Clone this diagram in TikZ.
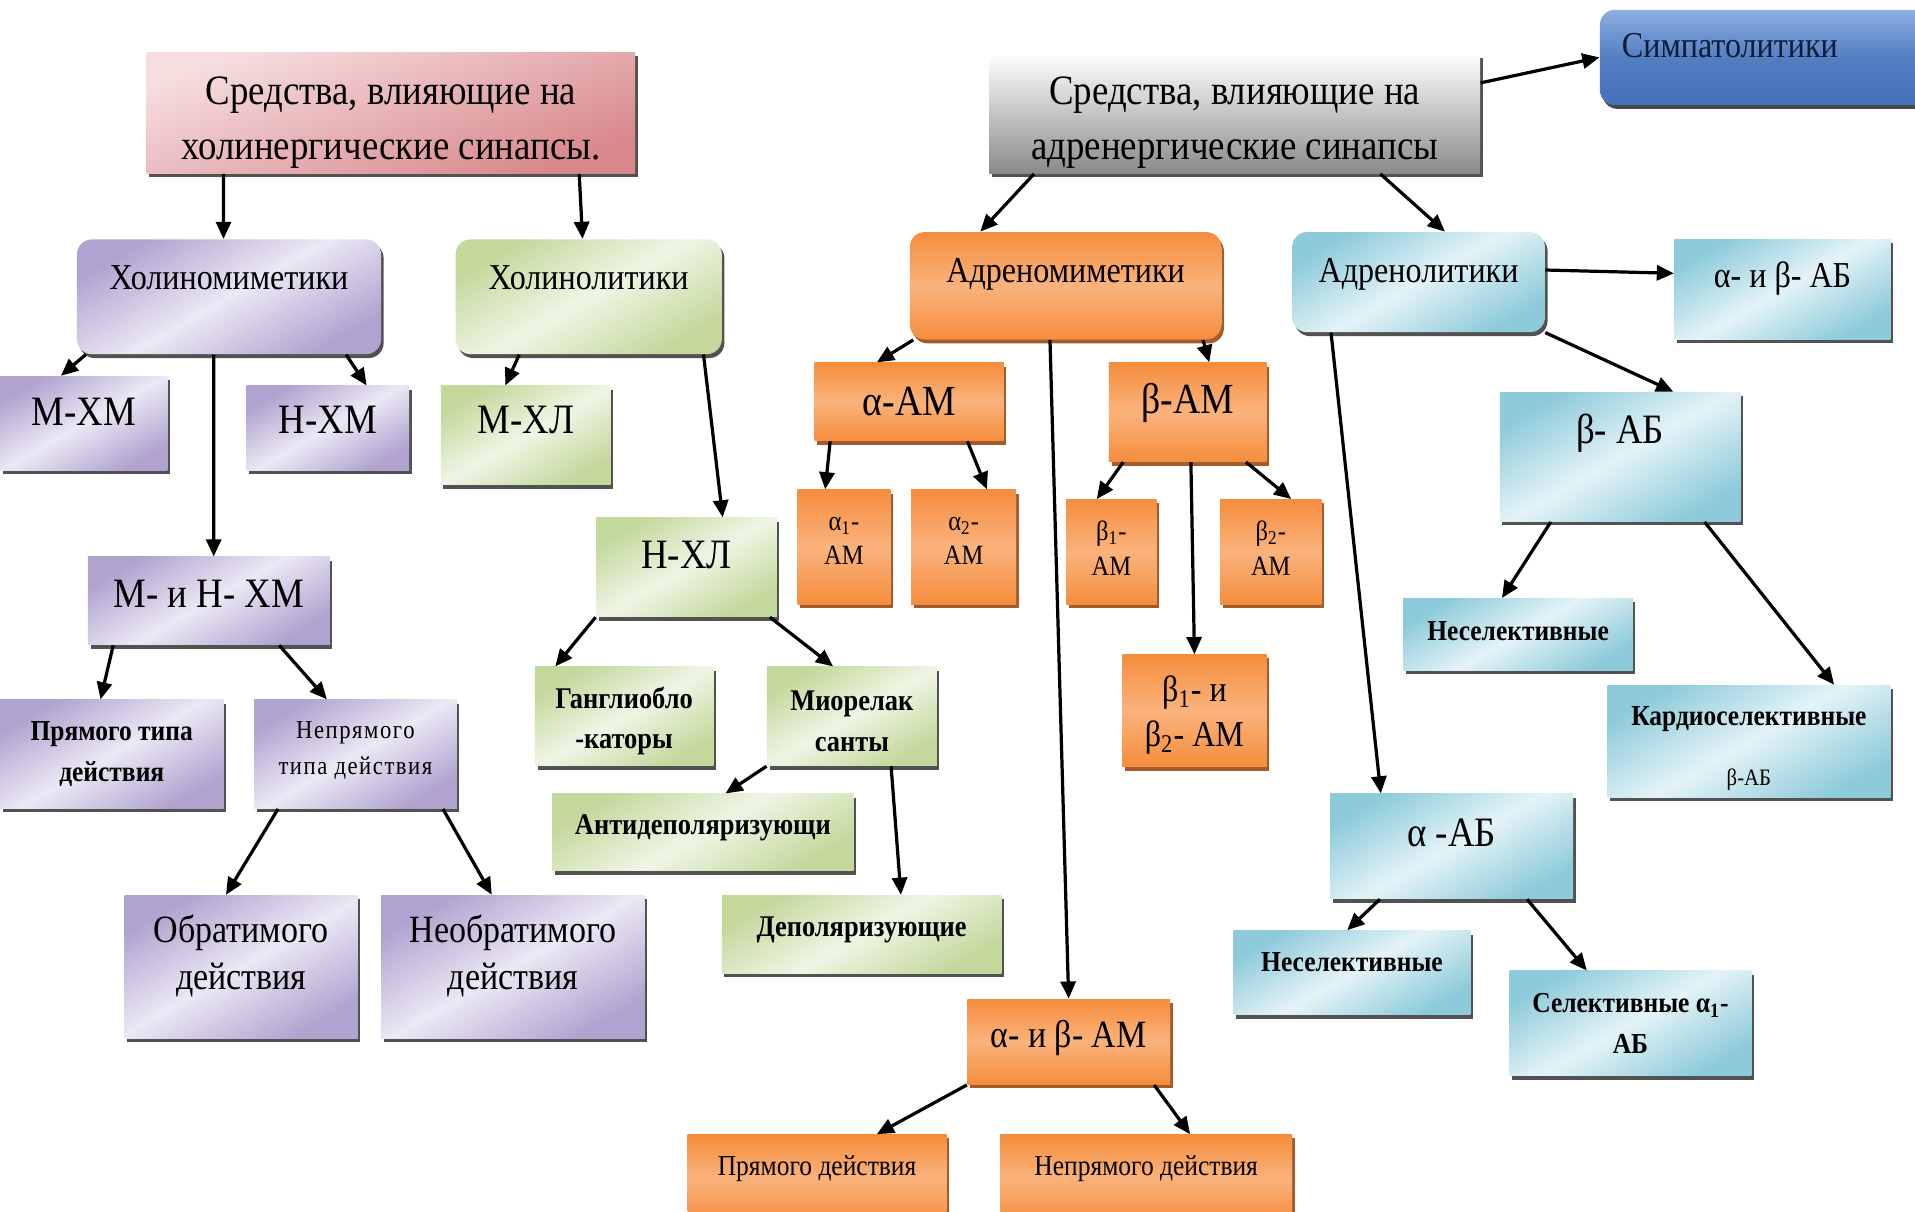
\documentclass[tikz,border=0pt]{standalone}
\usepackage{fontspec}
\setmainfont{Liberation Serif}[FakeStretch=0.88]
\usetikzlibrary{calc,shadows,arrows.meta}

\definecolor{pinkA}{HTML}{F6DEDF}
\definecolor{pinkB}{HTML}{D8878B}
\definecolor{grayB}{HTML}{8A8A8A}
\definecolor{blueA}{HTML}{8DB0E2}
\definecolor{blueB}{HTML}{4471B8}
\definecolor{navy}{HTML}{0E1C3C}
\definecolor{lavA}{HTML}{ECE8F4}
\definecolor{lavB}{HTML}{B0A3D0}
\definecolor{grnA}{HTML}{EFF5E5}
\definecolor{grnB}{HTML}{C3D89B}
\definecolor{orA}{HTML}{FAB37C}
\definecolor{orB}{HTML}{F58D3D}
\definecolor{orS}{HTML}{9A4C16}
\definecolor{ltbA}{HTML}{E4F3F7}
\definecolor{ltbB}{HTML}{8ECBDA}

\def\onS#1#2{($(#1.south west)!#2!(#1.south east)$)}
\def\onN#1#2{($(#1.north west)!#2!(#1.north east)$)}
\def\onE#1#2{($(#1.north east)!#2!(#1.south east)$)}
\def\onW#1#2{($(#1.north west)!#2!(#1.south west)$)}

\tikzset{
	box/.style={inner sep=0pt, align=center, drop shadow={shadow xshift=1.2pt, shadow yshift=-1.8pt, fill=#1, opacity=.9}},
	box/.default=black!75,
	sz/.style 2 args={minimum width=#1*0.02cm, minimum height=#2*0.02cm},
	lift/.style 2 args={text height=#1, text depth=#2},
	ml/.style={align=center, inner sep=0pt, yshift=#1},
	pinkbox/.style={box, top color=pinkA, bottom color=pinkB, shading angle=20},
	graybox/.style={box, top color=white, bottom color=grayB},
	bluebox/.style={box=black!80, top color=blueA, bottom color=blueB, middle color=blueB!80!blueA, rounded corners=7pt, text=navy},
	lavbox/.style={box, top color=lavB, bottom color=lavB, middle color=lavA, shading angle=30},
	grnbox/.style={box, top color=grnB, bottom color=grnB, middle color=grnA, shading angle=30},
	orbox/.style={box=orS, top color=orB, bottom color=orB, middle color=orA},
	ltbbox/.style={box, top color=ltbB, bottom color=ltbB, middle color=ltbA, shading angle=30},
	t195/.style={font=\fontsize{19.5}{25.6}\selectfont},
	t20/.style={font=\fontsize{20}{24}\selectfont},
	t19/.style={font=\fontsize{19.5}{24}\selectfont},
	t18/.style={font=\fontsize{18}{22}\selectfont},
	t17/.style={font=\fontsize{17}{21}\selectfont},
	t13/.style={font=\fontsize{13}{16}\selectfont},
	t135/.style={font=\fontsize{13.5}{16}\selectfont},
	b14/.style={font=\fontsize{14}{18.8}\selectfont\bfseries},
	b135/.style={font=\fontsize{13.5}{18.8}\selectfont\bfseries},
	arr/.style={-{Triangle[length=8pt,width=7pt]}, line width=1.5pt},
}

\begin{document}
\begin{tikzpicture}[x=0.02cm, y=-0.02cm]
			%%%%% START %%%%%
			\useasboundingbox[fill=white] (0,0) rectangle (1568,992);
			
			% cholinergic side
			\node[pinkbox, sz={400}{99}, label={[ml=-4.3pt, t195]center:{Средства, влияющие на\\холинергические синапсы.}}] (chol) at (320,92.5) {};
			\node[lavbox, rounded corners=7pt, sz={249}{94}, t17, lift={12pt}{19pt}] (cmim) at (187.5,243) {Холиномиметики};
			\node[grnbox, rounded corners=7pt, sz={218}{94}, t17, lift={12pt}{19pt}] (clit) at (482,243) {Холинолитики};
			
			\node[lavbox, sz={137}{77}, t19, lift={13.6pt}{11.6pt}] (mxm) at (68.5,346.5) {М-ХМ};
			\node[lavbox, sz={133}{69}, t19, lift={13.6pt}{8.2pt}] (nxm) at (268.5,350.5) {Н-ХМ};
			\node[lavbox, sz={198}{72}, t19, lift={13.6pt}{7.6pt}] (mnxm) at (171,492) {М- и Н- ХМ};
			\node[lavbox, sz={183}{89}, b135] (prtype) at (91.5,617.5) {Прямого типа\\действия};
			\node[lavbox, sz={166}{89}, label={[ml=1.7pt, font=\fontsize{12}{17}\selectfont\addfontfeature{LetterSpace=6}]center:{Непрямого\\типа действия}}] (neprtype) at (291,617.5) {};
			\node[lavbox, sz={191}{117}, label={[ml=5.1pt, t18]center:{Обратимого\\действия}}] (obr) at (197.5,791.5) {};
			\node[lavbox, sz={216}{117}, label={[ml=5.1pt, t18]center:{Необратимого\\действия}}] (neobr) at (420,791.5) {};
			
			\node[grnbox, sz={139}{81}, t19, lift={13.6pt}{15pt}] (mxl) at (430.5,356.5) {М-ХЛ};
			\node[grnbox, sz={148}{81}, t19, lift={13.6pt}{12.8pt}] (nxl) at (562,464.5) {Н-ХЛ};
			\node[grnbox, sz={146}{81}, label={[ml=-2.3pt, b14]center:{Ганглиобло\\-каторы}}] (gangl) at (511,586.5) {};
			\node[grnbox, sz={139}{81}, label={[ml=-2.3pt, b14]center:{Миорелак\\санты}}] (miorel) at (697.5,586.5) {};
			\node[grnbox, sz={247}{63}, b14, lift={9.8pt}{7.7pt}] (antidep) at (575.5,681.5) {Антидеполяризующи};
			\node[grnbox, sz={229}{64}, b14, lift={9.8pt}{8.2pt}] (dep) at (705.5,765) {Деполяризующие};
			
			% adrenergic side
			\node[graybox, sz={402}{98}, label={[ml=-4.3pt, t195]center:{Средства, влияющие на\\адренергические синапсы}}] (adr) at (1011,93) {};
			\node[bluebox, sz={290}{78}, t17, text width=5.08cm, align=left, lift={12pt}{12pt}] (simp) at (1455,47) {Симпатолитики};
			
			\node[orbox, rounded corners=7pt, sz={255}{88}, t17, lift={12pt}{15.4pt}] (amim) at (872.5,234) {Адреномиметики};
			\node[orbox, sz={155}{64}, t20] (aam) at (744.5,329) {α-АМ};
			\node[orbox, sz={129}{81}, t20, lift={14pt}{12.8pt}] (bam) at (972.5,337.5) {β-АМ};
			\node[orbox, sz={76}{94}, label={[ml=2.8pt, t13]center:{α\textsubscript{1}-\\АМ}}] (a1am) at (691,448) {};
			\node[orbox, sz={86}{94}, label={[ml=2.8pt, t13]center:{α\textsubscript{2}-\\АМ}}] (a2am) at (789,448) {};
			\node[orbox, sz={74}{86}, label={[ml=1.8pt, t13]center:{β\textsubscript{1}-\\АМ}}] (b1am) at (910,452) {};
			\node[orbox, sz={83}{86}, label={[ml=1.8pt, t13]center:{β\textsubscript{2}-\\АМ}}] (b2am) at (1040.5,452) {};
			\node[orbox, sz={118}{92}, label={[ml=-2pt, t17]center:{β\textsubscript{1}- и\\β\textsubscript{2}- АМ}}] (b12am) at (978,582) {};
			\node[orbox, sz={166}{70}, t18, lift={12.6pt}{7.5pt}] (abam) at (875,853) {α- и β- АМ};
			\node[orbox, sz={212}{72}, t135, lift={9.5pt}{12.8pt}] (prdir) at (669,965) {Прямого действия};
			\node[orbox, sz={239}{72}, t135, lift={9.5pt}{12.8pt}] (neprdir) at (938.5,965) {Непрямого действия};
			
			\node[ltbbox, rounded corners=7pt, sz={207}{82}, t17, lift={12pt}{12pt}] (alit) at (1161.5,231) {Адренолитики};
			\node[ltbbox, sz={177}{82}, t17, lift={12pt}{14.2pt}] (abab) at (1459.5,237) {α- и β- АБ};
			\node[ltbbox, sz={197}{106}, t19, lift={13.3pt}{25.8pt}] (bab) at (1326.5,374) {β- АБ};
			\node[ltbbox, sz={188}{59}, b135, lift={9.5pt}{4.2pt}] (nesel1) at (1243,519.5) {Неселективные};
			\node[ltbbox, sz={232}{92}, label={[ml=-3.4pt, b135]center:{Кардиоселективные\\[9pt]{\normalfont\fontsize{11}{13}\selectfont β-АБ}}}] (kardio) at (1432,607) {};
			\node[ltbbox, sz={199}{86}, t19, lift={13.3pt}{13.3pt}] (aab) at (1188.5,693) {α -АБ};
			\node[ltbbox, sz={194}{69}, b135, lift={9.5pt}{11pt}] (nesel2) at (1107,796.5) {Неселективные};
			\node[ltbbox, sz={198}{86}, b135] (selekt) at (1335,838) {Селективные α\textsubscript{1}-\\АБ};
			
			% arrows
			\draw[arr] \onS{chol}{.158} -- \onN{cmim}{.482};
			\draw[arr] \onS{chol}{.885} -- \onN{clit}{.477};
			\draw[arr] \onS{cmim}{.03} -- \onN{mxm}{.365};
			\draw[arr] \onS{cmim}{.884} -- \onN{nxm}{.737};
			\draw[arr] \onS{cmim}{.45} -- \onN{mnxm}{.52};
			\draw[arr] \onS{clit}{.24} -- \onN{mxl}{.38};
			\draw[arr] \onS{clit}{.93} -- \onN{nxl}{.70};
			\draw[arr] \onS{mnxm}{.106} -- \onN{prtype}{.45};
			\draw[arr] \onS{mnxm}{.79} -- \onN{neprtype}{.36};
			\draw[arr] \onS{neprtype}{.12} -- \onN{obr}{.435};
			\draw[arr] \onS{neprtype}{.93} -- \onN{neobr}{.42};
			\draw[arr] \onS{nxl}{0} -- \onN{gangl}{.116};
			\draw[arr] \onS{nxl}{.96} -- \onN{miorel}{.39};
			\draw[arr] \onS{miorel}{0} -- \onN{antidep}{.575};
			\draw[arr] \onS{miorel}{.73} -- \onN{dep}{.64};
			
			\draw[arr] \onE{adr}{.245} -- (simp.west);
			\draw[arr] \onS{adr}{.092} -- \onN{amim}{.227};
			\draw[arr] \onS{adr}{.796} -- \onN{alit}{.604};
			\draw[arr] \onS{amim}{.012} -- \onN{aam}{.33};
			\draw[arr] \onS{amim}{.94} -- \onN{bam}{.636};
			\draw[arr] \onS{amim}{.45} -- \onN{abam}{.5};
			\draw[arr] \onS{aam}{.084} -- \onN{a1am}{.30};
			\draw[arr] \onS{aam}{.806} -- \onN{a2am}{.72};
			\draw[arr] \onS{bam}{.093} -- \onN{b1am}{.34};
			\draw[arr] \onS{bam}{.868} -- \onN{b2am}{.70};
			\draw[arr] \onS{bam}{.52} -- \onN{b12am}{.5};
			\draw[arr] \onS{abam}{0} -- \onN{prdir}{.73};
			\draw[arr] \onS{abam}{.92} -- \onN{neprdir}{.65};
			
			\draw[arr] \onE{alit}{.38} -- \onW{abab}{.34};
			\draw[arr] (alit.south east) -- \onN{bab}{.72};
			\draw[arr] \onS{alit}{.155} -- \onN{aab}{.21};
			\draw[arr] \onS{bab}{.213} -- \onN{nesel1}{.43};
			\draw[arr] \onS{bab}{.85} -- \onN{kardio}{.80};
			\draw[arr] \onS{aab}{.206} -- \onN{nesel2}{.48};
			\draw[arr] \onS{aab}{.81} -- \onN{selekt}{.32};
			
			%%%%% END %%%%%
\end{tikzpicture}
\end{document}
